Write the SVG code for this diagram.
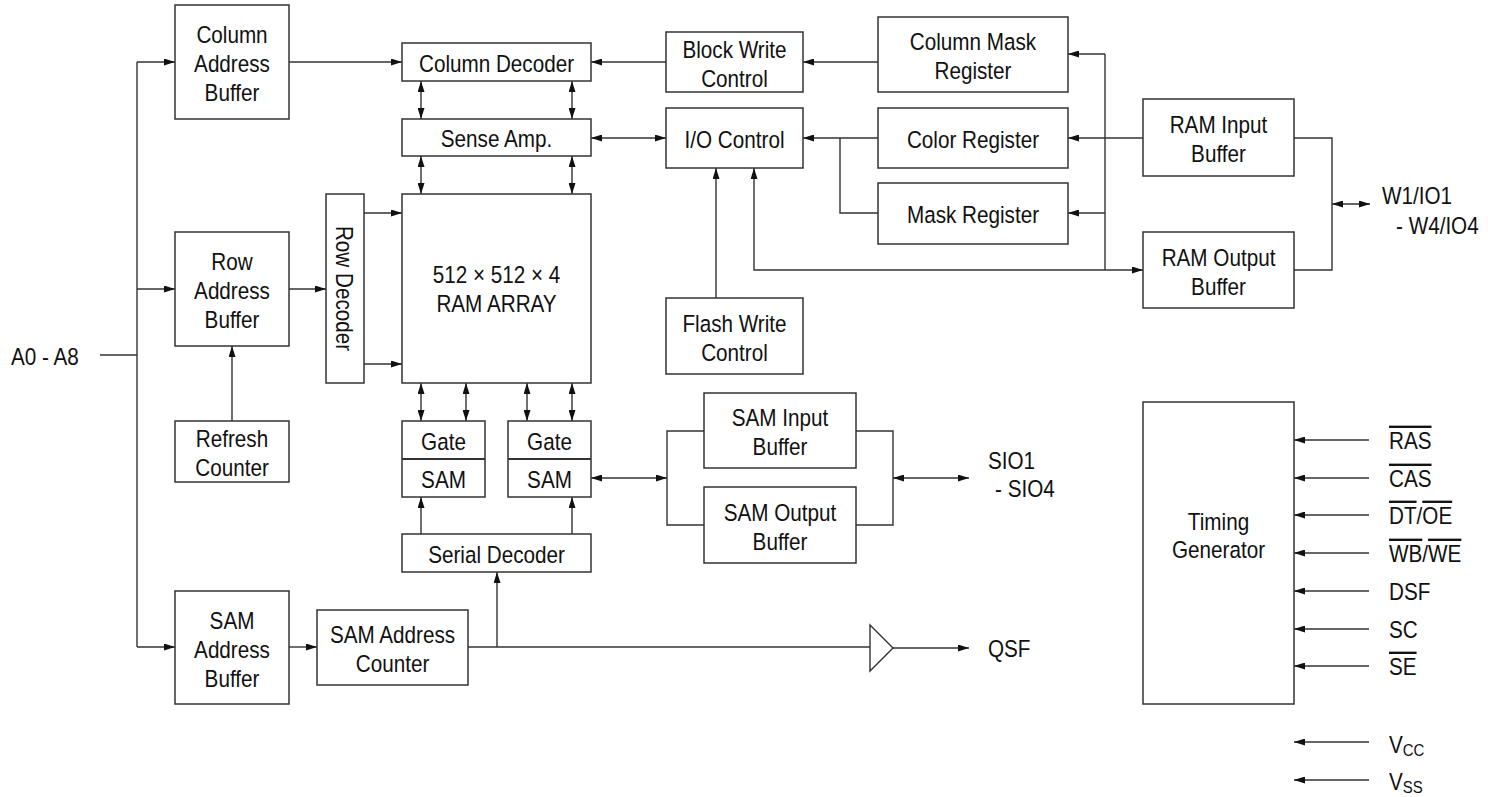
<svg xmlns="http://www.w3.org/2000/svg" width="1488" height="797" viewBox="0 0 1488 797">
<style>
.b{fill:#fff;stroke:#333;stroke-width:1.5}
.t{font-family:"Liberation Sans",Arial,sans-serif;font-size:23.5px;text-anchor:middle;fill:#111}
.l{font-family:"Liberation Sans",Arial,sans-serif;font-size:23.5px;fill:#111}
.c path{fill:none;stroke:#333;stroke-width:1.4}
.a{marker-end:url(#ah)}
.d{marker-end:url(#ah);marker-start:url(#ah)}
.ov{text-decoration:overline}
</style>
<defs>
<marker id="ah" markerUnits="userSpaceOnUse" markerWidth="11" markerHeight="7" refX="11" refY="3.5" orient="auto-start-reverse">
<path d="M0,0 L11,3.5 L0,7 z" fill="#111"/>
</marker>
</defs>
<rect width="1488" height="797" fill="#fff"/>

<g id="connectors" class="c">
<path d="M137,62 V647"/>
<path class="a" d="M137,62 H175"/>
<path class="a" d="M137,289 H175"/>
<path class="a" d="M137,647 H175"/>
<path d="M100,355 H137"/>
<path class="a" d="M289,62 H402"/>
<path class="a" d="M289,289 H326"/>
<path class="a" d="M232,421 V346"/>
<path class="a" d="M364,213 H402"/>
<path class="a" d="M364,364 H402"/>
<path class="d" d="M421,81 V119"/>
<path class="d" d="M572,81 V119"/>
<path class="d" d="M421,156 V194"/>
<path class="d" d="M572,156 V194"/>
<path class="d" d="M421,383 V421"/>
<path class="d" d="M466,383 V421"/>
<path class="d" d="M527,383 V421"/>
<path class="d" d="M572,383 V421"/>
<path class="a" d="M421,534 V497"/>
<path class="a" d="M572,534 V497"/>
<path class="a" d="M289,647 H317"/>
<path d="M468,647 H870"/>
<path class="a" d="M497,647 V572"/>
<path class="a" d="M893,648 H969"/>
<path class="d" d="M591,478 H667"/>
<path d="M704,431 H667 V525 H704"/>
<path d="M856,431 H893 V525 H856"/>
<path class="d" d="M893,478 H969"/>
<path class="a" d="M666,62 H591"/>
<path class="a" d="M878,62 H803"/>
<path class="d" d="M591,138 H666"/>
<path class="a" d="M878,138 H803"/>
<path d="M840,138 V213 H878"/>
<path class="a" d="M716,298 V168"/>
<path class="d" d="M1143,270 H754 V168"/>
<path d="M1105,54 V270"/>
<path class="a" d="M1105,54 H1068"/>
<path class="a" d="M1105,213 H1068"/>
<path class="a" d="M1143,138 H1068"/>
<path d="M1294,138 H1332 V270 H1294"/>
<path class="d" d="M1332,204 H1370"/>
<path class="a" d="M1369,440 H1294"/>
<path class="a" d="M1369,478 H1294"/>
<path class="a" d="M1369,515 H1294"/>
<path class="a" d="M1369,553 H1294"/>
<path class="a" d="M1369,591 H1294"/>
<path class="a" d="M1369,629 H1294"/>
<path class="a" d="M1369,666 H1294"/>
<path class="a" d="M1369,742 H1294"/>
<path class="a" d="M1369,780 H1294"/>
</g>

<g id="col-addr-buf"><rect class="b" x="175" y="5" width="114" height="114"/><g transform="translate(232 0) scale(.88 1)"><text class="t" y="43">Column</text><text class="t" y="72">Address</text><text class="t" y="101">Buffer</text></g></g>
<g id="row-addr-buf"><rect class="b" x="175" y="232" width="114" height="114"/><g transform="translate(232 0) scale(.88 1)"><text class="t" y="270">Row</text><text class="t" y="299">Address</text><text class="t" y="328">Buffer</text></g></g>
<g id="refresh-counter"><rect class="b" x="175" y="421" width="114" height="61"/><g transform="translate(232 0) scale(.88 1)"><text class="t" y="447">Refresh</text><text class="t" y="476">Counter</text></g></g>
<g id="sam-addr-buf"><rect class="b" x="175" y="591" width="114" height="113"/><g transform="translate(232 0) scale(.88 1)"><text class="t" y="629">SAM</text><text class="t" y="658">Address</text><text class="t" y="687">Buffer</text></g></g>
<g id="row-decoder"><rect class="b" x="326" y="194" width="38" height="189"/><text class="t" transform="translate(345,288.5) rotate(90) scale(.88 1)" x="0" y="8.5">Row Decoder</text></g>
<g id="column-decoder"><rect class="b" x="402" y="43" width="189" height="38"/><text class="t" transform="translate(496.5 0) scale(.88 1)" y="72">Column Decoder</text></g>
<g id="sense-amp"><rect class="b" x="402" y="119" width="189" height="37"/><text class="t" transform="translate(496.5 0) scale(.88 1)" y="147">Sense Amp.</text></g>
<g id="ram-array"><rect class="b" x="402" y="194" width="189" height="189"/><g transform="translate(496.5 0) scale(.88 1)"><text class="t" y="283">512 × 512 × 4</text><text class="t" y="312">RAM ARRAY</text></g></g>
<g id="gate-sam-1"><rect class="b" x="402" y="421" width="83" height="76"/><path d="M402,459 H485" stroke="#333" stroke-width="2"/><g transform="translate(443.5 0) scale(.88 1)"><text class="t" y="450">Gate</text><text class="t" y="488">SAM</text></g></g>
<g id="gate-sam-2"><rect class="b" x="508" y="421" width="83" height="76"/><path d="M508,459 H591" stroke="#333" stroke-width="2"/><g transform="translate(549.5 0) scale(.88 1)"><text class="t" y="450">Gate</text><text class="t" y="488">SAM</text></g></g>
<g id="serial-decoder"><rect class="b" x="402" y="534" width="189" height="38"/><text class="t" transform="translate(496.5 0) scale(.88 1)" y="563">Serial Decoder</text></g>
<g id="sam-addr-counter"><rect class="b" x="317" y="610" width="151" height="75"/><g transform="translate(392.5 0) scale(.88 1)"><text class="t" y="643">SAM Address</text><text class="t" y="672">Counter</text></g></g>
<g id="block-write-control"><rect class="b" x="666" y="32" width="137" height="60"/><g transform="translate(734.5 0) scale(.88 1)"><text class="t" y="58">Block Write</text><text class="t" y="87">Control</text></g></g>
<g id="io-control"><rect class="b" x="666" y="108" width="137" height="60"/><text class="t" transform="translate(734.5 0) scale(.88 1)" y="148">I/O Control</text></g>
<g id="flash-write-control"><rect class="b" x="666" y="298" width="137" height="76"/><g transform="translate(734.5 0) scale(.88 1)"><text class="t" y="332">Flash Write</text><text class="t" y="361">Control</text></g></g>
<g id="column-mask-register"><rect class="b" x="878" y="17" width="190" height="75"/><g transform="translate(973 0) scale(.88 1)"><text class="t" y="50">Column Mask</text><text class="t" y="79">Register</text></g></g>
<g id="color-register"><rect class="b" x="878" y="108" width="190" height="60"/><text class="t" transform="translate(973 0) scale(.88 1)" y="148">Color Register</text></g>
<g id="mask-register"><rect class="b" x="878" y="183" width="190" height="61"/><text class="t" transform="translate(973 0) scale(.88 1)" y="223">Mask Register</text></g>
<g id="ram-input-buffer"><rect class="b" x="1143" y="99" width="151" height="77"/><g transform="translate(1218.5 0) scale(.88 1)"><text class="t" y="133">RAM Input</text><text class="t" y="162">Buffer</text></g></g>
<g id="ram-output-buffer"><rect class="b" x="1143" y="232" width="151" height="76"/><g transform="translate(1218.5 0) scale(.88 1)"><text class="t" y="266">RAM Output</text><text class="t" y="295">Buffer</text></g></g>
<g id="sam-input-buffer"><rect class="b" x="704" y="393" width="152" height="75"/><g transform="translate(780 0) scale(.88 1)"><text class="t" y="426">SAM Input</text><text class="t" y="455">Buffer</text></g></g>
<g id="sam-output-buffer"><rect class="b" x="704" y="487" width="152" height="76"/><g transform="translate(780 0) scale(.88 1)"><text class="t" y="521">SAM Output</text><text class="t" y="550">Buffer</text></g></g>
<g id="timing-generator"><rect class="b" x="1143" y="402" width="151" height="302"/><g transform="translate(1218.5 0) scale(.88 1)"><text class="t" y="530">Timing</text><text class="t" y="558">Generator</text></g></g>
<g id="qsf-buffer"><polygon points="870,625 893,648 870,671" fill="#fff" stroke="#333" stroke-width="1.4"/></g>

<g id="labels">
<text class="l" transform="translate(11 0) scale(.88 1)" y="365">A0 - A8</text>
<text class="l" transform="translate(1382 0) scale(.88 1)" y="204">W1/IO1</text>
<text class="l" transform="translate(1396 0) scale(.88 1)" y="234">- W4/IO4</text>
<text class="l" transform="translate(988 0) scale(.88 1)" y="469">SIO1</text>
<text class="l" transform="translate(995 0) scale(.88 1)" y="497">- SIO4</text>
<text class="l" transform="translate(988 0) scale(.88 1)" y="657">QSF</text>
<text class="l" transform="translate(1389 0) scale(.88 1)" y="449"><tspan class="ov">RAS</tspan></text>
<text class="l" transform="translate(1389 0) scale(.88 1)" y="487"><tspan class="ov">CAS</tspan></text>
<text class="l" transform="translate(1389 0) scale(.88 1)" y="524"><tspan class="ov">DT</tspan>/<tspan class="ov">OE</tspan></text>
<text class="l" transform="translate(1389 0) scale(.88 1)" y="562"><tspan class="ov">WB</tspan>/<tspan class="ov">WE</tspan></text>
<text class="l" transform="translate(1389 0) scale(.88 1)" y="600">DSF</text>
<text class="l" transform="translate(1389 0) scale(.88 1)" y="638">SC</text>
<text class="l" transform="translate(1389 0) scale(.88 1)" y="675"><tspan class="ov">SE</tspan></text>
<text class="l" transform="translate(1389 0) scale(.88 1)" y="753">V<tspan font-size="17" dy="3">CC</tspan></text>
<text class="l" transform="translate(1389 0) scale(.88 1)" y="790">V<tspan font-size="17" dy="3">SS</tspan></text>
</g>
</svg>
